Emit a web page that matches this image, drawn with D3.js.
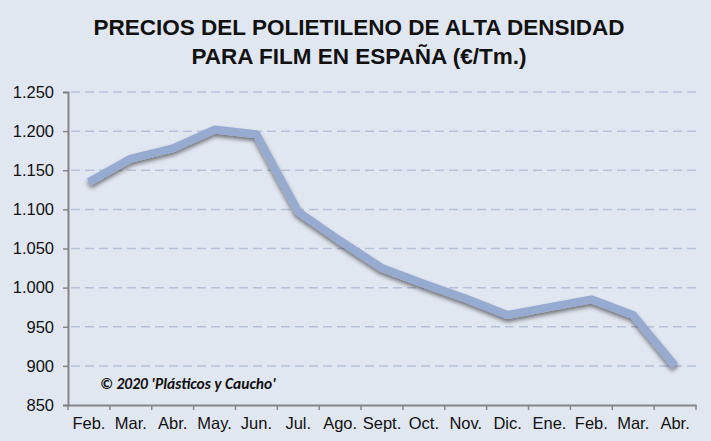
<!DOCTYPE html>
<html>
<head>
<meta charset="utf-8">
<script src="https://cdn.jsdelivr.net/npm/d3@7"></script>
<style>
  body { margin: 0; background: #e1e7f1; }
  svg { display: block; font-family: "Liberation Sans", Arial, sans-serif; }
</style>
</head>
<body>
<script>
// months (Feb 2019 .. Abr 2020)
let months = ['Feb.', 'Mar.', 'Abr.', 'May.', 'Jun.', 'Jul.', 'Ago.', 'Sept.', 'Oct.', 'Nov.', 'Dic.', 'Ene.', 'Feb.', 'Mar.', 'Abr.'];
let prices = [1135, 1165, 1178, 1202, 1196, 1097, 1060, 1025, 1005, 986, 965, 975, 985, 965, 900];
let yTicks = [850, 900, 950, 1000, 1050, 1100, 1150, 1200, 1250];

let width = 711, height = 441;
let margin = {top: 92, right: 15, bottom: 36, left: 68};

let svg = d3.select('body').append('svg')
    .attr('width', width)
    .attr('height', height);

let x = d3.scaleBand()
    .domain(d3.range(months.length))
    .range([margin.left, width - margin.right]);

let y = d3.scaleLinear()
    .domain([850, 1250])
    .range([height - margin.bottom, margin.top]);

// spanish thousands separator
let fmt = v => v >= 1000 ? Math.floor(v / 1000) + '.' + String(v % 1000).padStart(3, '0') : String(v);

// title
let title = svg.append('g').attr('text-anchor', 'middle')
    .style('font-weight', 'bold').style('font-size', '22.5px').attr('fill', '#111');
title.append('text').attr('x', 359).attr('y', 35).text('PRECIOS DEL POLIETILENO DE ALTA DENSIDAD');
title.append('text').attr('x', 359).attr('y', 64).text('PARA FILM EN ESPAÑA (€/Tm.)');

// gridlines
svg.append('g')
    .selectAll('line')
    .data(yTicks.slice(1))
    .enter().append('line')
    .attr('x1', margin.left + 3)
    .attr('x2', width - margin.right)
    .attr('y1', d => y(d))
    .attr('y2', d => y(d))
    .attr('stroke', '#b7c2d9')
    .attr('stroke-width', 1.5)
    .attr('stroke-dasharray', '9,5');

// axes
let yAxis = svg.append('g')
    .attr('transform', `translate(${margin.left},0)`)
    .call(d3.axisLeft(y).tickValues(yTicks).tickFormat(fmt).tickSize(5).tickPadding(9));

let xAxis = svg.append('g')
    .attr('transform', `translate(0,${height - margin.bottom})`)
    .call(d3.axisBottom(x).tickFormat(i => months[i]).tickSize(0).tickPadding(12));

// tick marks at band edges
xAxis.selectAll('.edge')
    .data(d3.range(months.length + 1))
    .enter().append('line')
    .attr('class', 'edge')
    .attr('x1', i => margin.left + i * x.step())
    .attr('x2', i => margin.left + i * x.step())
    .attr('y1', 0).attr('y2', 5)
    .attr('stroke', '#868686').attr('stroke-width', 1.5);

[yAxis, xAxis].forEach(a => {
    a.select('.domain').attr('stroke', '#868686').attr('stroke-width', 2);
    a.selectAll('.tick line').attr('stroke', '#868686').attr('stroke-width', 1.5);
    a.selectAll('text').attr('fill', '#111').style('font-size', '16.5px')
        .style('font-family', '"Liberation Sans", Arial, sans-serif');
});

// shadow filter
let defs = svg.append('defs');
let f = defs.append('filter').attr('id', 'shadow')
    .attr('x', '-10%').attr('y', '-10%').attr('width', '120%').attr('height', '130%');
f.append('feGaussianBlur').attr('in', 'SourceAlpha').attr('stdDeviation', 2).attr('result', 'b');
f.append('feOffset').attr('in', 'b').attr('dy', 3).attr('result', 'o');
f.append('feComponentTransfer').attr('in', 'o').attr('result', 's')
    .append('feFuncA').attr('type', 'linear').attr('slope', 0.5);
let m = f.append('feMerge');
m.append('feMergeNode').attr('in', 's');
m.append('feMergeNode').attr('in', 'SourceGraphic');

let line = d3.line()
    .x((d, i) => x(i) + x.bandwidth() / 2)
    .y(d => y(d));

svg.append('path')
    .datum(prices)
    .attr('d', line)
    .attr('fill', 'none')
    .attr('stroke', '#97abd1')
    .attr('stroke-width', 8)
    .attr('stroke-linejoin', 'round')
    .attr('filter', 'url(#shadow)');

// copyright
svg.append('text')
    .attr('x', 100).attr('y', 389)
    .style('font-family', 'Carlito, "Liberation Sans", sans-serif')
    .style('font-weight', 'bold').style('font-style', 'italic').style('font-size', '15.5px')
    .attr('fill', '#111')
    .text("© 2020 'Plásticos y Caucho'");
</script>
</body>
</html>
